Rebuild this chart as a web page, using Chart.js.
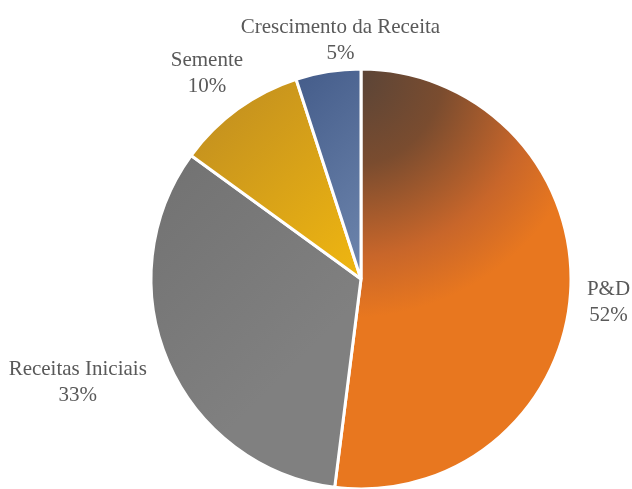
<!DOCTYPE html>
<html>
<head>
<meta charset="utf-8">
<script src="https://cdn.jsdelivr.net/npm/chart.js@4.4.0/dist/chart.umd.min.js"></script>
<style>
    html, body { margin: 0; padding: 0; background: #fff; }
    #wrap { width: 632px; height: 489px; }
</style>
</head>
<body>
<div id="wrap"><canvas id="pie_chart" width="632" height="489"></canvas></div>
<script>
const categories = ['P&D', 'Receitas Iniciais', 'Semente', 'Crescimento da Receita'];
const shares = [52, 33, 10, 5];

// each slice is shaded from a dark end to a light end
const darkColors = ['#584438', '#727272', '#c4911f', '#3d5584'];
const lightColors = ['#e8771f', '#808080', '#f3b90f', '#7189b0'];

const PIE_RADIUS = 210;

function sliceFill(context) {
    const i = context.dataIndex;
    const chart = context.chart;
    const area = chart.chartArea;
    if (!area) return lightColors[i];
    const cx = (area.left + area.right) / 2;
    const cy = (area.top + area.bottom) / 2;
    let g;
    if (i === 0) {
        // big slice: brown glow spreading from the top of the pie
        const gx = cx - 10, gy = cy - PIE_RADIUS + 5;
        g = chart.ctx.createRadialGradient(gx, gy, 0, gx, gy, PIE_RADIUS * 1.45);
        g.addColorStop(0, darkColors[i]);
        g.addColorStop(0.3, '#7a4c2f');
        g.addColorStop(0.6, '#c8662a');
        g.addColorStop(0.8, lightColors[i]);
        g.addColorStop(1, lightColors[i]);
        return g;
    }
    g = chart.ctx.createLinearGradient(cx - 150, cy - PIE_RADIUS + 40, cx + 20, cy);
    g.addColorStop(0, darkColors[i]);
    g.addColorStop(1, lightColors[i]);
    return g;
}

// two-line labels (name + percentage) set outside each slice
const sliceLabels = {
    id: 'sliceLabels',
    afterDatasetsDraw(chart, args, opts) {
        const ctx = chart.ctx;
        const meta = chart.getDatasetMeta(0);
        ctx.save();
        ctx.font = opts.font;
        ctx.fillStyle = opts.color;
        ctx.textAlign = 'center';
        ctx.textBaseline = 'middle';
        meta.data.forEach((arc, i) => {
            const mid = (arc.startAngle + arc.endAngle) / 2;
            const dist = arc.outerRadius + opts.gap;
            const nudge = opts.nudges[i];
            const x = arc.x + Math.cos(mid) * dist + nudge[0];
            const y = arc.y + Math.sin(mid) * dist + nudge[1];
            ctx.fillText(categories[i], x, y - opts.lineHeight / 2);
            ctx.fillText(shares[i] + '%', x, y + opts.lineHeight / 2);
        });
        ctx.restore();
    }
};

const ctx = document.getElementById('pie_chart').getContext('2d');
new Chart(ctx, {
    type: 'pie',
    data: {
        labels: categories,
        datasets: [{
            data: shares,
            backgroundColor: sliceFill,
            borderColor: '#ffffff',
            borderWidth: 3,
            radius: PIE_RADIUS,
            hoverOffset: 0
        }]
    },
    options: {
        responsive: false,
        animation: false,
        events: [],
        layout: { padding: { left: 90, right: 0, top: 69, bottom: 0 } },
        plugins: {
            legend: { display: false },
            tooltip: { enabled: false },
            sliceLabels: {
                font: '21px "Liberation Serif", serif',
                color: '#595959',
                gap: 30,
                lineHeight: 26,
                nudges: [[8, 8], [-63, 8], [-13, -11], [17, -1]]
            }
        }
    },
    plugins: [sliceLabels]
});
</script>
</body>
</html>
